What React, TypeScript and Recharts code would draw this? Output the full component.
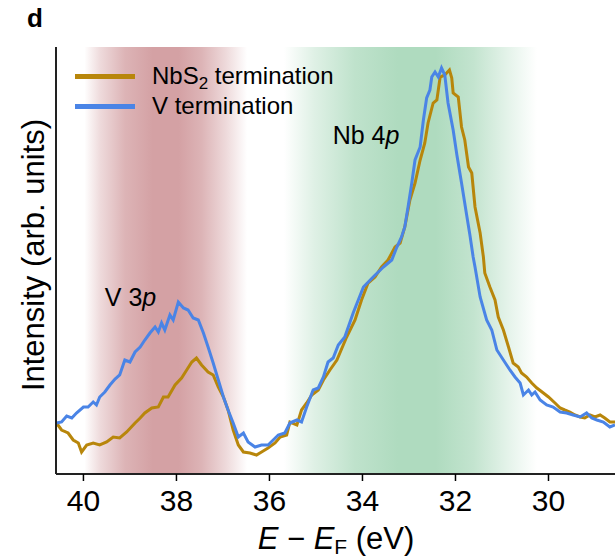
import React from 'react';
import { LineChart, Line, XAxis, YAxis, ReferenceArea, ReferenceDot } from 'recharts';

// Binding energy (eV) and intensity (arb. units) for the NbS2-terminated surface
const nbsEnergy = [40.58, 40.47, 40.33, 40.22, 40.11, 40.04, 39.93, 39.79, 39.65, 39.5, 39.36, 39.22, 39.07, 38.89, 38.78, 38.68, 38.53, 38.39, 38.28, 38.18, 38.03, 37.89, 37.78, 37.67, 37.57, 37.46, 37.32, 37.21, 37.1, 36.99, 36.89, 36.78, 36.67, 36.56, 36.42, 36.28, 36.17, 36.03, 35.88, 35.77, 35.63, 35.56, 35.41, 35.31, 35.2, 35.09, 34.95, 34.84, 34.7, 34.55, 34.34, 34.16, 34.02, 33.88, 33.73, 33.59, 33.45, 33.3, 33.19, 33.09, 32.98, 32.87, 32.76, 32.66, 32.59, 32.48, 32.4, 32.33, 32.23, 32.13, 32.08, 32.05, 31.94, 31.87, 31.8, 31.72, 31.65, 31.58, 31.47, 31.4, 31.37, 31.26, 31.15, 31.08, 30.97, 30.86, 30.76, 30.65, 30.58, 30.47, 30.36, 30.25, 30.11, 30.0, 29.86, 29.75, 29.65, 29.54, 29.43, 29.32, 29.22, 29.11, 29.0, 28.89, 28.79, 28.68, 28.57];
const nbsIntensity = [51, 44, 41, 34, 31, 22, 29, 31, 29, 32, 37, 36, 42, 51, 56, 61, 66, 67, 77, 77, 89, 96, 104, 112, 116, 109, 102, 99, 87, 77, 64, 44, 29, 22, 21, 19, 22, 26, 31, 37, 39, 52, 49, 64, 71, 79, 84, 94, 104, 114, 137, 154, 174, 191, 197, 207, 214, 227, 231, 247, 274, 291, 314, 331, 351, 371, 374, 397, 399, 404, 396, 381, 377, 347, 334, 307, 301, 267, 241, 217, 201, 187, 174, 157, 144, 127, 111, 107, 101, 97, 91, 86, 81, 77, 71, 66, 64, 62, 59, 57, 56, 59, 57, 59, 56, 52, 52];

// Binding energy (eV) and intensity (arb. units) for the V-terminated surface
const vEnergy = [40.58, 40.47, 40.36, 40.25, 40.15, 40.0, 39.9, 39.79, 39.72, 39.65, 39.54, 39.43, 39.32, 39.22, 39.11, 39.0, 38.89, 38.78, 38.68, 38.57, 38.46, 38.39, 38.32, 38.25, 38.14, 38.07, 37.96, 37.85, 37.75, 37.64, 37.53, 37.42, 37.32, 37.21, 37.1, 36.99, 36.89, 36.78, 36.67, 36.56, 36.46, 36.31, 36.17, 36.03, 35.92, 35.81, 35.67, 35.56, 35.41, 35.31, 35.2, 35.06, 34.95, 34.84, 34.74, 34.63, 34.52, 34.38, 34.2, 33.98, 33.77, 33.55, 33.37, 33.26, 33.16, 33.09, 33.02, 32.94, 32.87, 32.76, 32.69, 32.62, 32.55, 32.51, 32.44, 32.37, 32.3, 32.23, 32.16, 32.05, 31.97, 31.87, 31.76, 31.69, 31.62, 31.58, 31.47, 31.33, 31.22, 31.11, 30.97, 30.83, 30.72, 30.61, 30.54, 30.43, 30.36, 30.29, 30.18, 30.04, 29.9, 29.75, 29.61, 29.47, 29.32, 29.18, 29.07, 28.96, 28.82, 28.68, 28.57];
const vIntensity = [51, 52, 58, 56, 61, 67, 67, 72, 69, 77, 82, 89, 95, 99, 114, 112, 122, 127, 134, 141, 147, 142, 151, 144, 159, 154, 172, 166, 164, 156, 154, 141, 127, 111, 94, 77, 64, 51, 37, 41, 32, 27, 29, 29, 34, 39, 41, 51, 54, 52, 67, 84, 86, 97, 112, 116, 129, 137, 161, 187, 197, 207, 214, 227, 237, 247, 267, 291, 314, 327, 354, 376, 384, 397, 402, 397, 406, 399, 371, 344, 319, 291, 259, 239, 217, 207, 177, 154, 144, 124, 114, 104, 97, 91, 79, 84, 79, 82, 74, 69, 67, 62, 61, 59, 57, 61, 56, 54, 52, 47, 49];

const xTicks = [40, 38, 36, 34, 32, 30];
const xDomain = [28.57, 40.59];
const yDomain = [0, 427];
const seriesNames = ['NbS2 termination', 'V termination'];
const v3pBand = [36.48, 39.98];
const nb4pBand = [30.25, 35.69];

const nbsData = nbsEnergy.map((e, i) => ({ e, val: nbsIntensity[i] }));
const vData = vEnergy.map((e, i) => ({ e, val: vIntensity[i] }));

const FONT = '"Liberation Sans", Arial, Helvetica, sans-serif';
const GOLD = '#b8860b';
const BLUE = '#4a84e6';

const LegendBox = () => (
  <div style={{ position: 'absolute', left: 75, top: 61, fontFamily: FONT, fontSize: 24, color: '#000' }}>
    {[
      { c: GOLD, label: <>NbS<sub style={{ fontSize: 17, verticalAlign: '-5px', lineHeight: 0 }}>2</sub> termination</> },
      { c: BLUE, label: <>V termination</> },
    ].map((r, i) => (
      <div key={i} style={{ display: 'flex', alignItems: 'center', height: 30 }}>
        <div style={{ width: 60, height: 5, background: r.c, marginRight: 17 }} />
        <span style={{ lineHeight: '30px', whiteSpace: 'nowrap' }}>{r.label}</span>
      </div>
    ))}
  </div>
);

const YTitle = () => (
  <text x={33} y={255} transform="rotate(-90 33 255)" textAnchor="middle" dominantBaseline="central"
    fontFamily={FONT} fontSize={31} fill="#000">Intensity (arb. units)</text>
);

const XTitle = () => (
  <text x={336} y={549} textAnchor="middle" fontFamily={FONT} fontSize={31} fill="#000">
    <tspan fontStyle="italic">E</tspan>
    <tspan> − </tspan>
    <tspan fontStyle="italic">E</tspan>
    <tspan fontSize={21} dy={5}>F</tspan>
    <tspan dy={-5}> (eV)</tspan>
  </text>
);

const PeakLabel = (name: string) => (props: any) => {
  const vb = props.viewBox || {};
  const x = vb.x ?? props.x ?? 0;
  const y = vb.y ?? props.y ?? 0;
  return (
    <text x={x} y={y} fontFamily={FONT} fontSize={25} fill="#000">
      {name}<tspan fontStyle="italic">p</tspan>
    </text>
  );
};

export default function App() {
  return (
    <div style={{ position: 'absolute', left: 0, top: 0, width: 615, height: 560, background: '#fff' }}>
      <LineChart width={615} height={560} margin={{ top: 47, right: 0, bottom: 0, left: 0 }}>
        <defs>
          <linearGradient id="redBand" x1="0" y1="0" x2="1" y2="0">
            <stop offset="0" stopColor="#d4a1a4" stopOpacity={0} />
            <stop offset="0.1" stopColor="#d4a1a4" stopOpacity={0.4} />
            <stop offset="0.25" stopColor="#d4a1a4" stopOpacity={0.8} />
            <stop offset="0.42" stopColor="#d4a1a4" stopOpacity={1} />
            <stop offset="0.58" stopColor="#d4a1a4" stopOpacity={1} />
            <stop offset="0.72" stopColor="#d4a1a4" stopOpacity={0.8} />
            <stop offset="0.87" stopColor="#d4a1a4" stopOpacity={0.4} />
            <stop offset="1" stopColor="#d4a1a4" stopOpacity={0} />
          </linearGradient>
          <linearGradient id="greenBand" x1="0" y1="0" x2="1" y2="0">
            <stop offset="0" stopColor="#afdbbf" stopOpacity={0} />
            <stop offset="0.12" stopColor="#afdbbf" stopOpacity={0.4} />
            <stop offset="0.28" stopColor="#afdbbf" stopOpacity={0.8} />
            <stop offset="0.45" stopColor="#afdbbf" stopOpacity={1} />
            <stop offset="0.6" stopColor="#afdbbf" stopOpacity={1} />
            <stop offset="0.75" stopColor="#afdbbf" stopOpacity={0.75} />
            <stop offset="0.88" stopColor="#afdbbf" stopOpacity={0.35} />
            <stop offset="1" stopColor="#afdbbf" stopOpacity={0} />
          </linearGradient>
        </defs>
        <XAxis dataKey="e" type="number" domain={xDomain} reversed allowDataOverflow ticks={xTicks}
          tick={{ fontFamily: FONT, fontSize: 30, fill: '#000' }} tickLine={{ stroke: '#000', strokeWidth: 1.5 }}
          tickSize={7} tickMargin={9} axisLine={{ stroke: '#222', strokeWidth: 2 }} height={86}
          label={<XTitle />} />
        <XAxis xAxisId="top" orientation="top" dataKey="e" type="number" domain={xDomain} reversed
          tick={false} tickLine={false} axisLine={{ stroke: '#222', strokeWidth: 2 }} height={0} />
        <YAxis type="number" domain={yDomain} tick={false} tickLine={false} width={56}
          axisLine={{ stroke: '#222', strokeWidth: 2 }} label={<YTitle />} />
        <ReferenceArea x1={v3pBand[0]} x2={v3pBand[1]} fill="url(#redBand)" fillOpacity={1} stroke="none" />
        <ReferenceArea x1={nb4pBand[0]} x2={nb4pBand[1]} fill="url(#greenBand)" fillOpacity={1} stroke="none" />
        <Line data={nbsData} dataKey="val" name={seriesNames[0]} type="linear" stroke={GOLD} strokeWidth={3}
          dot={false} isAnimationActive={false} />
        <Line data={vData} dataKey="val" name={seriesNames[1]} type="linear" stroke={BLUE} strokeWidth={3}
          dot={false} isAnimationActive={false} />
        <ReferenceDot x={39.54} y={168} r={0} fill="none" stroke="none" label={PeakLabel('V 3')} />
        <ReferenceDot x={34.64} y={330} r={0} fill="none" stroke="none" label={PeakLabel('Nb 4')} />
      </LineChart>
      <LegendBox />
      <div style={{ position: 'absolute', left: 27, top: 3, fontFamily: FONT, fontWeight: 'bold', fontSize: 26 }}>d</div>
    </div>
  );
}
